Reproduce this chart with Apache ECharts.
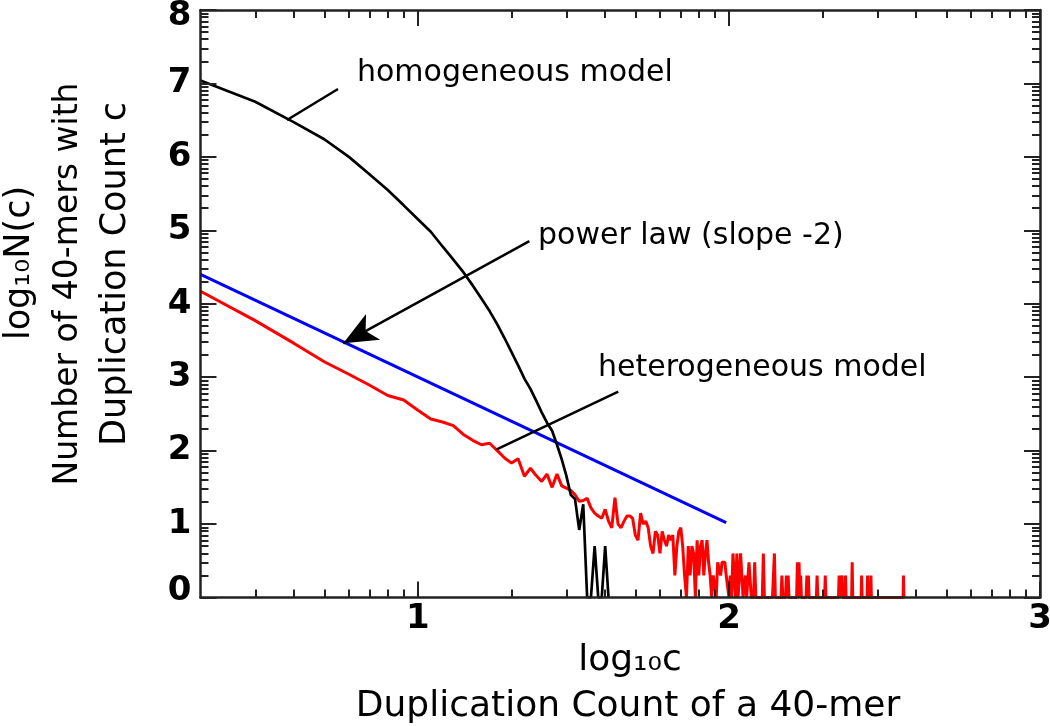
<!DOCTYPE html>
<html>
<head>
<meta charset="utf-8">
<script src="https://cdn.jsdelivr.net/npm/echarts@6/dist/echarts.min.js"></script>
<style>html,body{margin:0;padding:0;background:#fff}#chart{width:1050px;height:726px}</style>
</head>
<body>
<div id="chart"></div>
<script>
// ---- data (x = log10 of duplication count c, y = log10 N(c)) ----
const xTickLabels = [1, 2, 3];
const yTickLabels = [0, 1, 2, 3, 4, 5, 6, 7, 8];

const homogeneousCounts = [2,3,4,5,6,7,8,9,10,11,12,13,14,15,16,17,18,19,20,21,22,23,24,25,26,27,28,29,30,31,32,33,34,35,36,37,38,39,40,41];
const homogeneousLogN  = [7.04,6.75,6.47,6.24,6.00,5.76,5.55,5.34,5.15,4.98,4.78,4.60,4.43,4.25,4.07,3.90,3.72,3.53,3.34,3.16,2.98,2.84,2.68,2.52,2.38,2.27,2.08,1.88,1.66,1.40,1.34,0.92,1.27,0,0,0.70,0,0,0.70,0];

const heterogeneousCounts = [2,3,4,5,6,7,8,9,10,11,12,13,14,15,16,17,18,19,20,21,22,23,24,25,26,27,28,29,30,31,32,33,34,35,36,37,38,39,40,
  41,42,43,44,45,46,47,48,49,50,51,52,53,54,55,56,57,58,59,60,61,62,63,64,65,66,67,68,69,70,
  71,72,73,74,75,76,77,78,79,80,81,82,83,84,85,86,87,88,89,90,91,92,93,94,95,96,97,98,99,100,
  101,102,103,104,105,106,107,108,109,110,111,112,113,114,115,116,117,118,119,120,121,122,
  128,129,130,138,139,140,141,147,148,149,152,153,154,155,156,165,166,167,168,169,170,171,
  177,178,179,180,181,191,192,193,203,204,205,225,226,227,230,231,232,236,237,238,
  248,249,250,266,267,268,278,279,280,285,286,287,363,364,365];
const heterogeneousLogN = [4.17,3.77,3.46,3.21,3.04,2.89,2.75,2.69,2.55,2.43,2.39,2.34,2.22,2.14,2.08,2.10,2.00,1.90,1.83,1.89,1.65,1.76,1.66,1.58,1.68,1.50,1.68,1.52,1.49,1.46,1.40,1.31,1.32,1.35,1.22,1.15,1.11,1.08,1.20,
  1.04,0.95,1.36,1.00,0.95,1.04,1.11,1.11,1.08,0.85,0.78,1.15,1.00,1.04,0.95,0.70,0.60,0.90,0.85,0.60,0.90,0.78,0.70,0.85,0.78,0.85,0.30,0.70,0.90,0.95,
  0.70,0.30,0,0.70,0.30,0.70,0.60,0,0.78,0.30,0.70,0.78,0.30,0.60,0.78,0.48,0.30,0,0.30,0.30,0,0.48,0.48,0.30,0.48,0.48,0.48,0.30,0.30,0,
  0.30,0,0.60,0.30,0,0.60,0,0.30,0.60,0.30,0,0,0.30,0,0,0.48,0.48,0,0,0,0.48,0,
  0,0.60,0,0,0.30,0.60,0,0,0.30,0,0,0.30,0,0.30,0,0,0.48,0,0.48,0,0.30,0,
  0,0.30,0,0.30,0,0,0.30,0,0,0.30,0,0,0.30,0,0,0.30,0,0,0.30,0,
  0,0.48,0,0,0.30,0,0,0.30,0,0,0.30,0,0,0.30,0];

const powerLawCounts = [2, 98];
const powerLawLogN  = [4.40, 1.02];

// ---- build ----
const XMIN = Math.log10(2), XMAX = 3, YMIN = 0, YMAX = 8;
const toPairs = (counts, vals) => counts.map((c, i) => [Math.log10(c), vals[i]]);

const xMinorTicks = [];
for (let d = 0; d < 3; d++) for (let k = 2; k <= 9; k++) {
  const v = d + Math.log10(k);
  if (v > XMIN + 0.01) xMinorTicks.push(v);
}
const yMinorTicks = [];
for (let n = 0; n < 8; n++) for (let k = 2; k <= 9; k++) yMinorTicks.push(n + Math.log10(k));

const AXIS_COLOR = '#222';
const lineStyleAxis = { color: AXIS_COLOR, width: 2.5 };
const tickStyle = { color: AXIS_COLOR, width: 2 };
const labelFont = { fontFamily: 'DejaVu Sans', fontWeight: 'bold', fontSize: 34, color: '#000' };

function xAx(pos, ticks, len, showLine, labels) {
  return {
    type: 'value', position: pos, min: XMIN, max: XMAX, z: 5,
    axisLine: { show: showLine, onZero: false, lineStyle: lineStyleAxis },
    axisTick: { show: true, inside: true, length: len, lineStyle: tickStyle, customValues: ticks },
    axisLabel: labels ? Object.assign({ show: true, margin: 5, customValues: labels, formatter: v => String(Math.round(v)) }, labelFont) : { show: false },
    splitLine: { show: false }
  };
}
function yAx(pos, ticks, len, showLine, labels) {
  const rich = {
    n: Object.assign({}, labelFont),
    lo: Object.assign({ padding: [0, 0, 12, 0] }, labelFont),
    hi: Object.assign({ padding: [12, 0, 0, 0] }, labelFont)
  };
  return {
    type: 'value', position: pos, min: YMIN, max: YMAX, z: 5,
    axisLine: { show: showLine, onZero: false, lineStyle: lineStyleAxis },
    axisTick: { show: true, inside: true, length: len, lineStyle: tickStyle, customValues: ticks },
    axisLabel: labels ? Object.assign({
      show: true, margin: 9, customValues: labels, rich: rich,
      formatter: v => { const s = String(Math.round(v)); return v <= YMIN ? '{lo|' + s + '}' : (v >= YMAX ? '{hi|' + s + '}' : '{n|' + s + '}'); }
    }, labelFont) : { show: false },
    splitLine: { show: false }
  };
}

const chart = echarts.init(document.getElementById('chart'), null, { renderer: 'canvas' });
const textFont = 'DejaVu Sans';
chart.setOption({
  animation: false,
  backgroundColor: '#fff',
  grid: { left: 200.5, right: 10, top: 10, bottom: 128.5, containLabel: false, outerBoundsMode: 'none' },
  xAxis: [
    xAx('bottom', xTickLabels, 16, true, xTickLabels),
    xAx('bottom', xMinorTicks, 8, false, null),
    xAx('top', xTickLabels, 16, true, null),
    xAx('top', xMinorTicks, 8, false, null)
  ],
  yAxis: [
    yAx('left', yTickLabels, 16, true, yTickLabels),
    yAx('left', yMinorTicks, 8, false, null),
    yAx('right', yTickLabels, 16, true, null),
    yAx('right', yMinorTicks, 8, false, null)
  ],
  series: [
    {
      name: 'power law', type: 'line', xAxisIndex: 0, yAxisIndex: 0,
      data: toPairs(powerLawCounts, powerLawLogN), showSymbol: false, symbol: 'none',
      lineStyle: { color: '#0000ff', width: 3 }, z: 2
    },
    {
      name: 'heterogeneous model', type: 'line', xAxisIndex: 0, yAxisIndex: 0,
      data: toPairs(heterogeneousCounts, heterogeneousLogN), showSymbol: false, symbol: 'none',
      lineStyle: { color: '#ff0000', width: 3 }, z: 2
    },
    {
      name: 'homogeneous model', type: 'line', xAxisIndex: 0, yAxisIndex: 0,
      data: toPairs(homogeneousCounts, homogeneousLogN), showSymbol: false, symbol: 'none',
      lineStyle: { color: '#000', width: 2.7 }, z: 3,
      markLine: {
        silent: true, animation: false, symbol: ['none', 'none'],
        label: { show: false },
        lineStyle: { color: '#000', width: 2.5, type: 'solid' },
        data: [
          [{ coord: [0.7431, 6.924] }, { coord: [0.5791, 6.502] }],
          [{ coord: [1.3584, 4.854] }, { coord: [0.7601, 3.461], symbol: 'arrow', symbolSize: [22, 34] }],
          [{ coord: [1.6442, 2.802] }, { coord: [1.2533, 2.018] }]
        ]
      }
    }
  ],
  graphic: [
    { type: 'text', x: 357, y: 73, style: { text: 'homogeneous model', fontFamily: textFont, fontSize: 30, fill: '#000', align: 'left', verticalAlign: 'middle' } },
    { type: 'text', x: 538, y: 236, style: { text: 'power law (slope -2)', fontFamily: textFont, fontSize: 30, fill: '#000', align: 'left', verticalAlign: 'middle' } },
    { type: 'text', x: 598, y: 368, style: { text: 'heterogeneous model', fontFamily: textFont, fontSize: 30, fill: '#000', align: 'left', verticalAlign: 'middle' } },
    { type: 'text', x: 630, y: 661, style: { text: 'log₁₀c', fontFamily: textFont, fontSize: 36, fill: '#000', align: 'center', verticalAlign: 'middle' } },
    { type: 'text', x: 628, y: 707, style: { text: 'Duplication Count of a 40-mer', fontFamily: textFont, fontSize: 36, fill: '#000', align: 'center', verticalAlign: 'middle' } },
    { type: 'text', x: 20, y: 263, rotation: Math.PI / 2, style: { text: 'log₁₀N(c)', fontFamily: textFont, fontSize: 35, fill: '#000', align: 'center', verticalAlign: 'middle' } },
    { type: 'text', x: 68, y: 284, rotation: Math.PI / 2, style: { text: 'Number of 40-mers with', fontFamily: textFont, fontSize: 33, fill: '#000', align: 'center', verticalAlign: 'middle' } },
    { type: 'text', x: 116, y: 274, rotation: Math.PI / 2, style: { text: 'Duplication Count c', fontFamily: textFont, fontSize: 35, fill: '#000', align: 'center', verticalAlign: 'middle' } }
  ]
});
</script>
</body>
</html>
